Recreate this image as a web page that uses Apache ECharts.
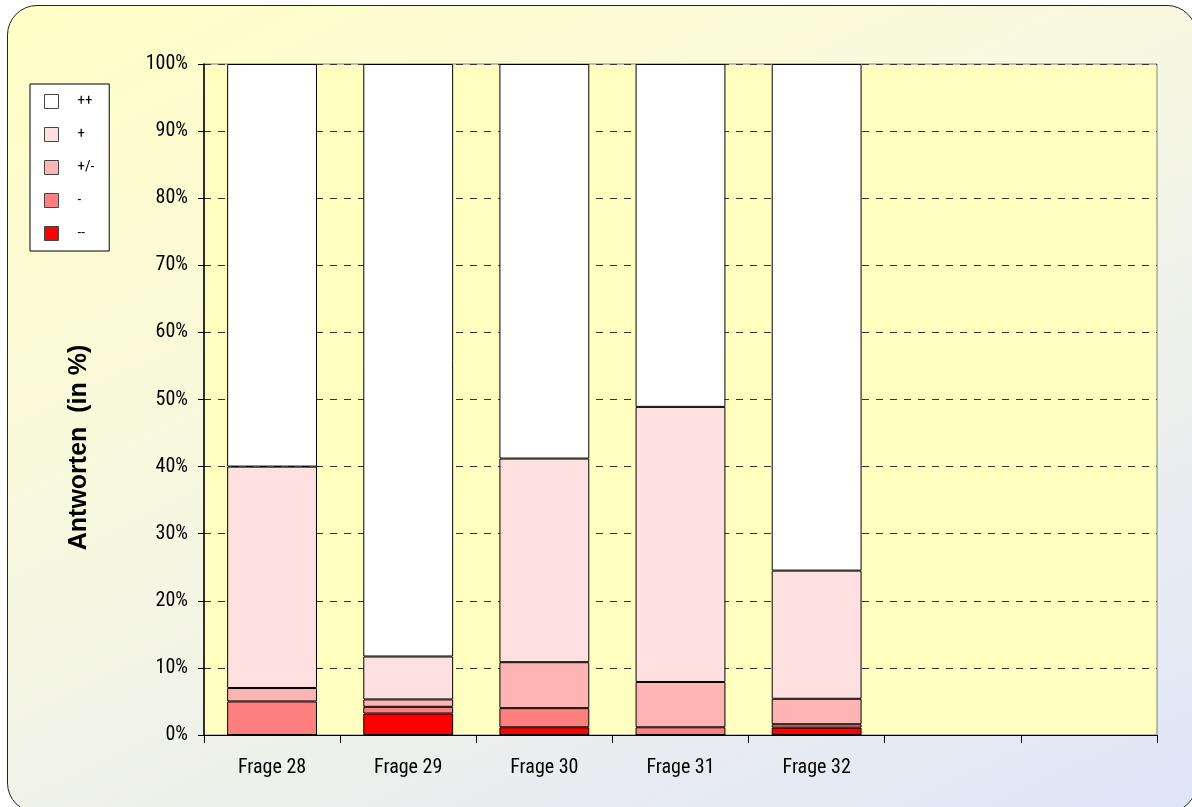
<!DOCTYPE html>
<html>
<head>
<meta charset="utf-8">
<script src="https://cdn.jsdelivr.net/npm/echarts@6/dist/echarts.min.js"></script>
<style>
  html, body { margin: 0; padding: 0; background: #ffffff; }
  #frame {
    position: absolute; left: 7px; top: 5px; width: 1190px; height: 808px;
    box-sizing: border-box; border: 1.5px solid #222; border-radius: 30px;
    background: linear-gradient(155deg, #ffffc6 0%, #f6f7e2 45%, #dfe5fa 100%);
  }
  #chart { position: absolute; left: 0; top: 0; width: 1192px; height: 807px; }
</style>
</head>
<body>
<div id="frame"></div>
<div id="chart"></div>
<script>
// Kategorien (zwei leere Plätze am Ende wie im Original)
const categories = ['Frage 28', 'Frage 29', 'Frage 30', 'Frage 31', 'Frage 32', '', '']
const yTicks = [0, 10, 20, 30, 40, 50, 60, 70, 80, 90, 100]

// Anteile in %
const sehrSchlecht = [0, 3.2, 1.15, 0, 1.1, null, null]      // --
const schlecht = [5.0, 1.0, 2.85, 1.15, 0.5, null, null]       // -
const neutral = [2.0, 1.1, 6.85, 6.75, 3.8, null, null]        // +/-
const gut = [33.0, 6.4, 30.35, 41.0, 19.1, null, null]         // +
const sehrGut = [60.0, 88.3, 58.8, 51.1, 75.5, null, null]     // ++

const font = "'Roboto Condensed', 'Liberation Sans', Arial, sans-serif"

const myChart = echarts.init(document.getElementById('chart'))

function bar(name, data, color) {
  return {
    name: name,
    type: 'bar',
    stack: 'total',
    barWidth: '66%',
    data: data,
    itemStyle: { color: color, borderColor: '#000', borderWidth: 1 },
    emphasis: { disabled: true }
  }
}

myChart.setOption({
  animation: false,
  textStyle: { fontFamily: font },
  grid: {
    left: 204, right: 35, top: 64, bottom: 72,
    show: true,
    backgroundColor: '#ffffc0',
    borderColor: '#808080',
    borderWidth: 1
  },
  legend: {
    orient: 'vertical',
    left: 30, top: 84,
    padding: [10, 15, 10, 14],
    backgroundColor: '#fff',
    borderColor: '#000',
    borderWidth: 1,
    itemWidth: 14, itemHeight: 14, itemGap: 18,
    icon: 'rect',
    textStyle: { fontFamily: font, fontSize: 15, color: '#000', padding: [0, 0, 0, 14] },
    data: ['++', '+', '+/-', '-', '--'],
    itemStyle: { borderColor: '#444', borderWidth: 1 }
  },
  xAxis: {
    type: 'category',
    data: categories,
    axisLine: { lineStyle: { color: '#000', width: 1 } },
    axisTick: { show: true, length: 8, lineStyle: { color: '#000' } },
    axisLabel: { color: '#000', fontSize: 20, fontFamily: font, margin: 23 }
  },
  yAxis: {
    type: 'value',
    min: 0, max: 100, interval: 10,
    name: 'Antworten  (in %)',
    nameLocation: 'middle',
    nameGap: 112,
    nameTextStyle: {
      fontFamily: "'Liberation Sans', Arial, sans-serif",
      fontSize: 25, fontWeight: 'bold', color: '#000',
      padding: [0, 96, 0, 0]
    },
    axisLine: { show: true, lineStyle: { color: '#000', width: 1.5 } },
    axisTick: { show: true, length: 6, lineStyle: { color: '#000' } },
    axisLabel: {
      color: '#000', fontSize: 20, fontFamily: font, margin: 16,
      formatter: v => (yTicks.includes(v) ? v + '%' : '')
    },
    splitLine: { show: true, lineStyle: { color: '#333', type: [7, 7], width: 1 } }
  },
  series: [
    bar('--', sehrSchlecht, '#ff0000'),
    bar('-', schlecht, '#ff7f7f'),
    bar('+/-', neutral, '#ffb4b4'),
    bar('+', gut, '#ffe0e0'),
    bar('++', sehrGut, '#ffffff')
  ]
})
</script>
</body>
</html>
